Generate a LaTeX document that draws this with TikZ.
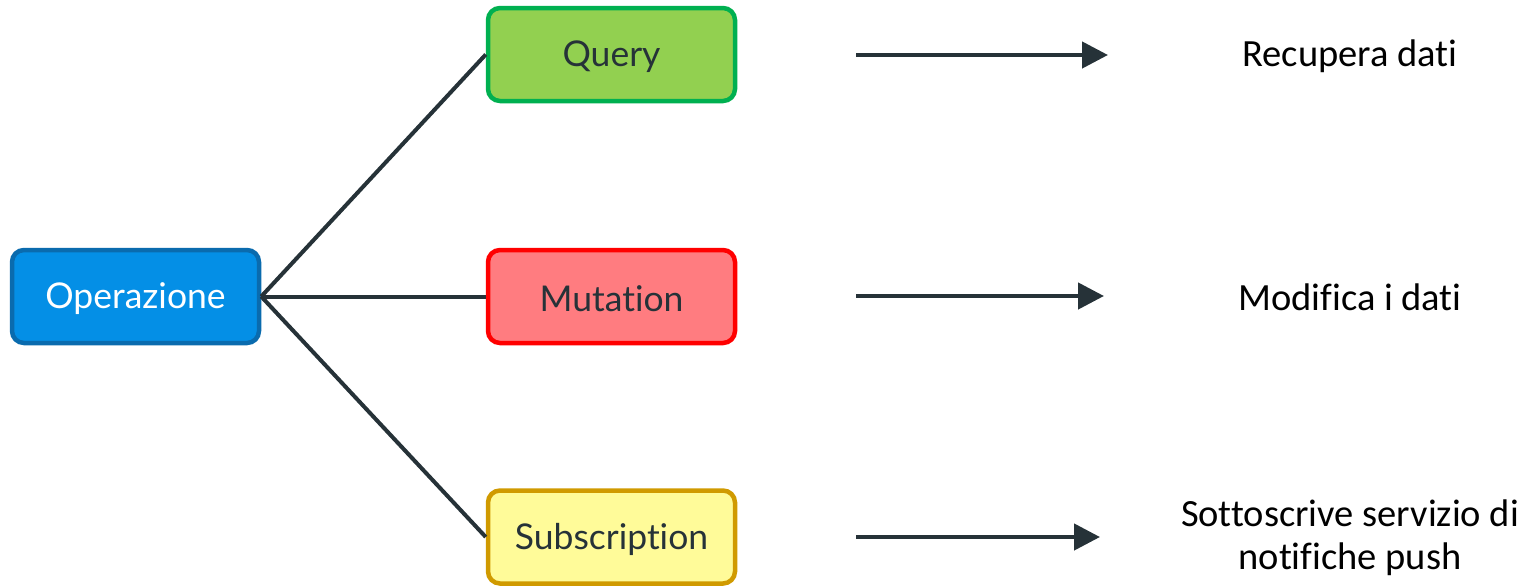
\documentclass[tikz,border=0pt]{standalone}
\usepackage{fontspec}
\setmainfont{Lato}[Ligatures=NoCommon]
\newfontfamily\notefont{Carlito}[Ligatures=NoCommon]
\usetikzlibrary{arrows.meta}
\definecolor{ink}{HTML}{263238}
\definecolor{opfill}{HTML}{048FE6}
\definecolor{opline}{HTML}{0A6BAE}
\definecolor{qfill}{HTML}{92D050}
\definecolor{qline}{HTML}{00B050}
\definecolor{mfill}{HTML}{FF7C80}
\definecolor{mline}{HTML}{FF0000}
\definecolor{sfill}{HTML}{FFFB99}
\definecolor{sline}{HTML}{D09A00}
\tikzset{
  opbox/.style={draw, line width=4.5pt, rounded corners=12pt, minimum width=247pt, minimum height=93pt,
    inner sep=0pt},
  boxtext/.style={yshift=-2pt, inner sep=0pt, font=\fontsize{35.5}{40}\selectfont, text=ink},
  link/.style={draw=ink, line width=4pt},
  pointer/.style={draw=ink, line width=4.5pt, -{Triangle[length=26pt,width=26pt]}},
  note/.style={font=\notefont\fontsize{38.5}{43}\selectfont, align=center, text=black}
}
\begin{document}
\begin{tikzpicture}[x=1pt,y=-1pt]
  \useasboundingbox (0,0) rectangle (1532,587);
  % the four operation boxes
  \node[opbox, fill=opfill, draw=opline] (op) at (135.5,296.5) {};
  \node[opbox, fill=qfill, draw=qline] (q) at (611.5,54.5) {};
  \node[opbox, fill=mfill, draw=mline] (m) at (611.5,296.5) {};
  \node[opbox, fill=sfill, draw=sline] (s) at (611.5,537) {};
  \node[boxtext, text=white] (opl) at (op) {Operazione};
  \node[boxtext] (ql) at (q) {Query};
  \node[boxtext] (ml) at (m) {Mutation};
  \node[boxtext] (sl) at (s) {Subscription};

  % branches from the root box
  \draw[link] (op.east) -- (q.west);
  \draw[link] (op.east) -- (m.west);
  \draw[link] (op.east) -- (s.west);

  % arrows towards the descriptions
  \coordinate (qa) at (856,55);
  \coordinate (qb) at (1108,55);
  \coordinate (ma) at (856,296);
  \coordinate (mb) at (1104,296);
  \coordinate (sa) at (856,537);
  \coordinate (sb) at (1100,537);
  \draw[pointer] (qa) -- (qb);
  \draw[pointer] (ma) -- (mb);
  \draw[pointer] (sa) -- (sb);

  \node[note] (qt) at (1350,56) {Recupera dati};
  \node[note] (mt) at (1350,297) {Modifica i dati};
  \node[note] (st) at (1350,538) {Sottoscrive servizio di\\notifiche push};
\end{tikzpicture}
\end{document}
